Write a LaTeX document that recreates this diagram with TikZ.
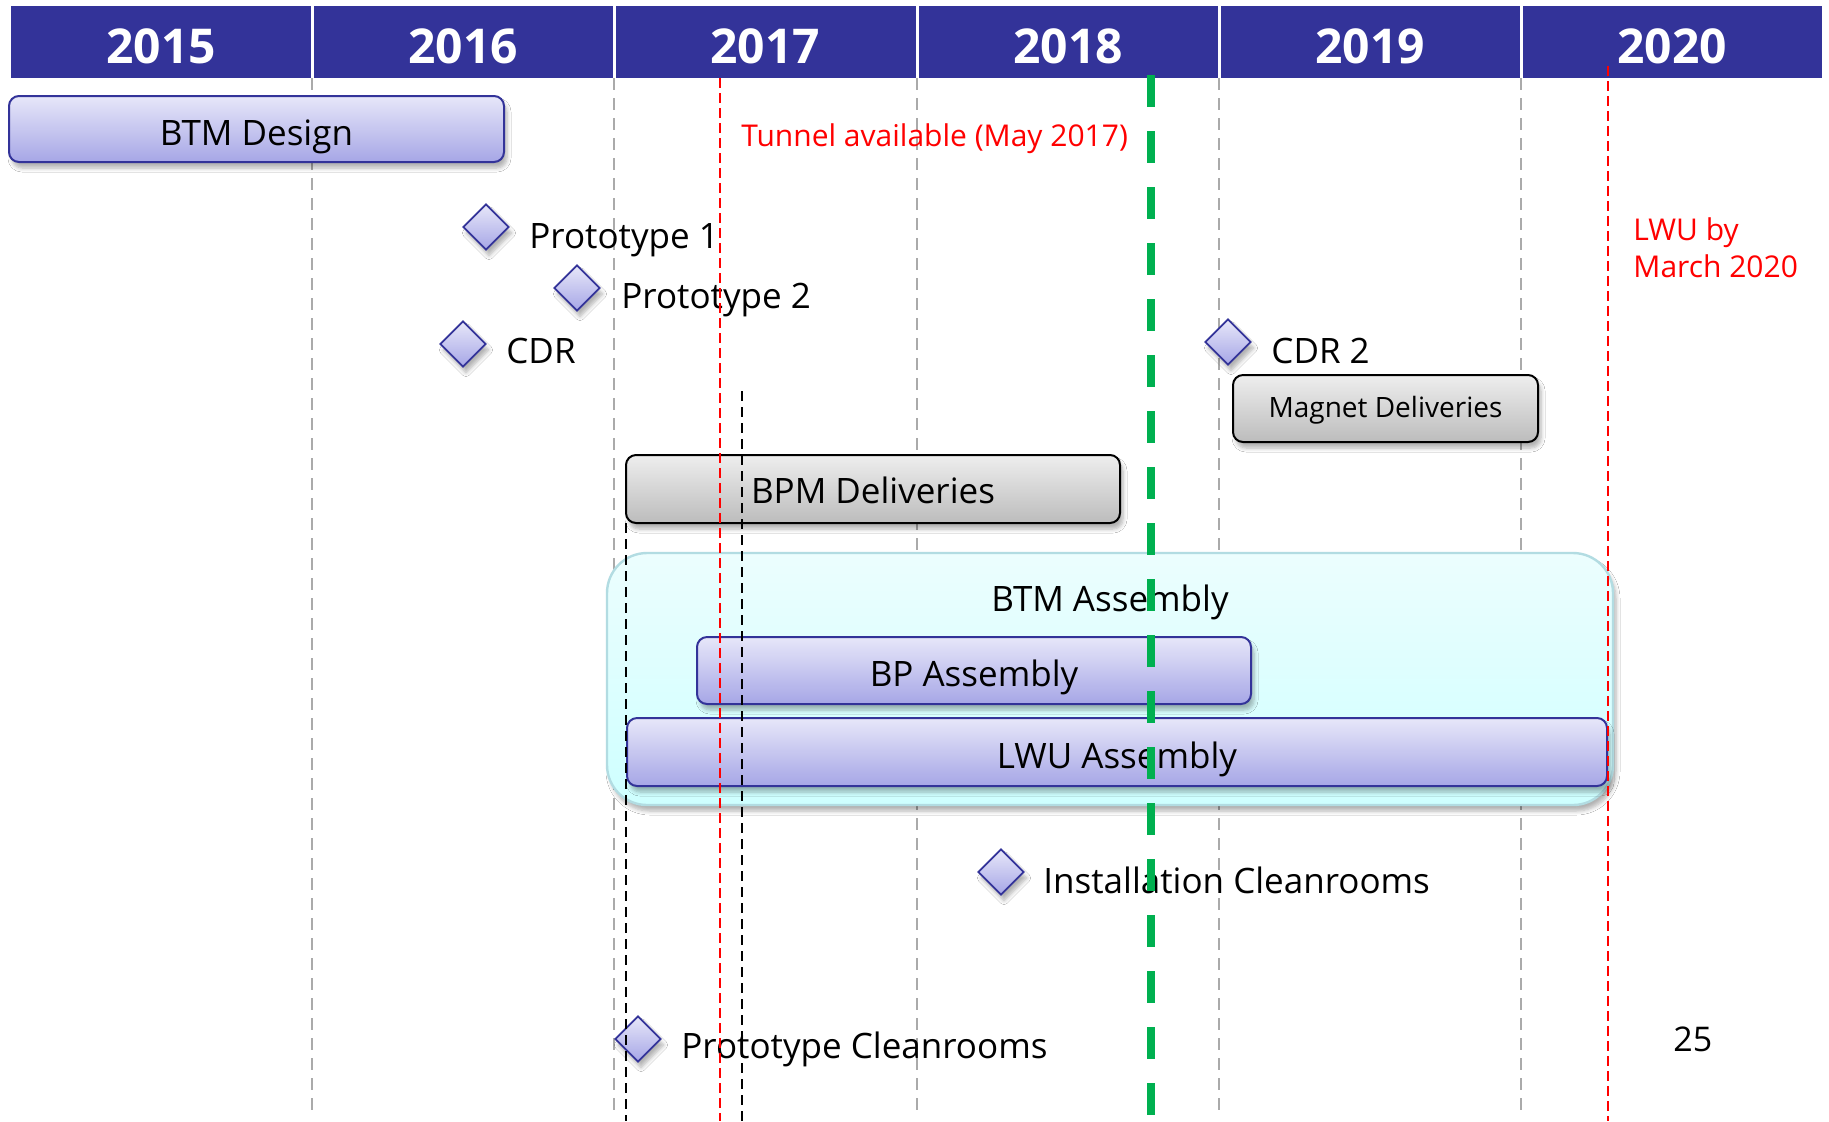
\documentclass[tikz,border=0pt]{standalone}
\usepackage{fontspec}
\setmainfont{Open Sans}
\usetikzlibrary{shapes.geometric,shadows.blur}

\definecolor{hdr}{RGB}{51,51,153}
\definecolor{boxtop}{RGB}{231,231,249}
\definecolor{boxbot}{RGB}{166,166,230}
\definecolor{graytop}{RGB}{238,238,238}
\definecolor{graybot}{RGB}{188,188,188}
\definecolor{cyantop}{RGB}{236,254,254}
\definecolor{cyanbot}{RGB}{206,255,255}
\definecolor{cyanedge}{RGB}{178,220,226}
\definecolor{gridgray}{RGB}{170,170,170}
\definecolor{msgreen}{RGB}{0,176,80}
\definecolor{msred}{RGB}{255,0,0}

\begin{document}
\begin{tikzpicture}[x=0.5pt,y=-0.5pt,
  shadowed/.style={blur shadow={shadow blur steps=6,shadow xshift=1.5pt,shadow yshift=-3pt,shadow opacity=30,shadow blur radius=2pt}},
  bluebar/.style={draw=hdr,line width=1pt,rounded corners=5pt,top color=boxtop,bottom color=boxbot,inner sep=0pt,text height=16pt,text depth=0pt,font=\fontsize{17.5}{21}\selectfont,shadowed},
  graybar/.style={draw=black,line width=1pt,rounded corners=5pt,top color=graytop,bottom color=graybot,inner sep=0pt,text depth=0pt,shadowed},
  milestone/.style={diamond,draw=hdr,line width=0.9pt,top color=boxtop,bottom color=boxbot,minimum width=23pt,minimum height=23pt,inner sep=0pt,shadowed},
  lbl/.style={anchor=base west,inner sep=0pt,font=\fontsize{17.5}{21}\selectfont},
  note/.style={anchor=base west,inner sep=0pt,text=msred,font=\fontsize{15}{18}\selectfont},
  year/.style={anchor=base,inner sep=0pt,text=white,font=\fontsize{24}{28}\selectfont\bfseries},
  gridline/.style={draw=gridgray,line width=1.2pt,dash pattern=on 6pt off 4pt},
  redline/.style={draw=msred,line width=1pt,dash pattern=on 5pt off 2.5pt},
  blackline/.style={draw=black,line width=1pt,dash pattern=on 5pt off 3pt},
  greenline/.style={draw=msgreen,line width=4pt,dash pattern=on 16pt off 12pt}
]
% canvas
\path[use as bounding box,fill=white] (0,0) rectangle (1829,1121);

% header band
\node[fill=hdr,anchor=north west,inner sep=0pt,minimum width=905.5pt,minimum height=36pt] (header) at (11,6) {};
\foreach \x/\n in {312/d1,614/d2,917/d3,1219/d4,1521/d5}{
  \coordinate (\n t) at (\x,6);
  \coordinate (\n h) at (\x,78);
  \coordinate (\n b) at (\x,1114);
  \draw[white,line width=1.5pt] (\n t) -- (\n h);
  \draw[gridline] (\n h) -- (\n b);
}
\node[year] (y2015) at (161,63) {2015};
\node[year] (y2016) at (463,63) {2016};
\node[year] (y2017) at (765,63) {2017};
\node[year] (y2018) at (1068,63) {2018};
\node[year] (y2019) at (1370,63) {2019};
\node[year] (y2020) at (1672,63) {2020};

% bars
\node[bluebar,minimum width=247.5pt,minimum height=33pt] (btmdesign) at (256.5,129) {BTM Design};

\node[graybar,minimum width=247pt,minimum height=34pt,text height=14pt,font=\fontsize{17.5}{21}\selectfont] (bpm) at (873,489) {BPM Deliveries};
\node[graybar,minimum width=152.5pt,minimum height=33.5pt,text height=8.5pt,font=\fontsize{14}{17}\selectfont] (magnet) at (1385.5,408.5) {Magnet Deliveries};

\node[draw=cyanedge,line width=1.2pt,rounded corners=20pt,top color=cyantop,bottom color=cyanbot,inner sep=0pt,minimum width=503pt,minimum height=126pt,shadowed] (btmasm) at (1110,679) {};
\node[anchor=base,inner sep=0pt,font=\fontsize{17.5}{21}\selectfont] (btmasmlbl) at (1110,611) {BTM Assembly};

\node[bluebar,minimum width=277pt,minimum height=33.5pt] (bpasm) at (974,670.5) {BP Assembly};
\node[bluebar,minimum width=490pt,minimum height=34pt] (lwuasm) at (1117,752) {LWU Assembly};

% milestones
\node[milestone] (m1) at (486,227) {};
\node[lbl] (m1l) at (529,248) {Prototype 1};
\node[milestone] (m2) at (577,288) {};
\node[lbl] (m2l) at (621,308) {Prototype 2};
\node[milestone] (m3) at (463,344) {};
\node[lbl] (m3l) at (506,363) {CDR};
\node[milestone] (m4) at (1228,342) {};
\node[lbl] (m4l) at (1271,363) {CDR 2};
\node[milestone] (m5) at (1001,872) {};
\node[lbl] (m5l) at (1043,893) {Installation Cleanrooms};
\node[milestone] (m6) at (638,1039) {};
\node[lbl] (m6l) at (681,1058) {Prototype Cleanrooms};

% notes
\node[note] (tunnel) at (741,146) {Tunnel available (May 2017)};
\node[note] (lwu1) at (1633,240) {LWU by};
\node[note] (lwu2) at (1633,277) {March 2020};
\node[anchor=base west,inner sep=0pt,font=\fontsize{17}{20}\selectfont] (page) at (1673,1051) {25};

% red deadline lines
\coordinate (r1t) at (720,78);
\coordinate (r1b) at (720,1121);
\coordinate (r2t) at (1608,66);
\coordinate (r2b) at (1608,1121);
\draw[redline] (r1t) -- (r1b);
\draw[redline] (r2t) -- (r2b);

% black dashed lines
\coordinate (k1t) at (742,391);
\coordinate (k1b) at (742,1121);
\coordinate (k2t) at (626,523);
\coordinate (k2b) at (626,1121);
\draw[blackline] (k1t) -- (k1b);
\draw[blackline] (k2t) -- (k2b);

% today line
\coordinate (gt) at (1151,75);
\coordinate (gb) at (1151,1115);
\draw[greenline] (gt) -- (gb);
\end{tikzpicture}
\end{document}
